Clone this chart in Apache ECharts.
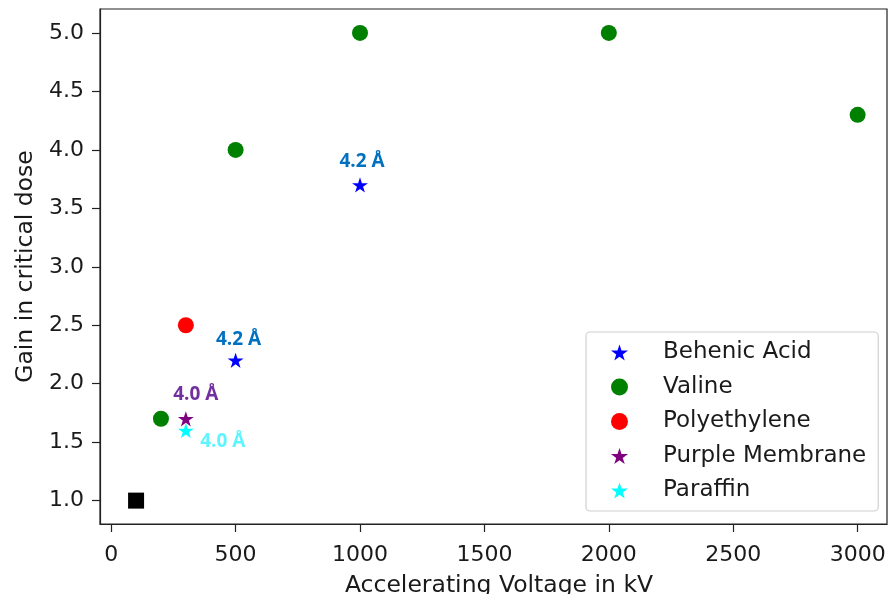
<!DOCTYPE html>
<html><head><meta charset="utf-8">
<script src="https://cdn.jsdelivr.net/npm/echarts@6/dist/echarts.min.js"></script>
<style>html,body{margin:0;padding:0;background:#fff}#c{width:892px;height:594px}</style>
</head><body><div id="c"></div>
<script>
// ---- data ----
const behenicX = [500, 1000];
const behenicY = [2.2, 3.7];
const behenicNotes = ['4.2 Å', '4.2 Å'];
const valineX = [200, 500, 1000, 2000, 3000];
const valineY = [1.7, 4.0, 5.0, 5.0, 4.3];
const polyX = [300];
const polyY = [2.5];
const purpleX = [300];
const purpleY = [1.7];
const purpleNotes = ['4.0 Å'];
const paraffinX = [300];
const paraffinY = [1.6];
const paraffinNotes = ['4.0 Å'];
const refX = [100];
const refY = [1.0];
const xTicks = [0, 500, 1000, 1500, 2000, 2500, 3000];
const yTicks = [1.0, 1.5, 2.0, 2.5, 3.0, 3.5, 4.0, 4.5, 5.0];
const seriesNames = ['Behenic Acid', 'Valine', 'Polyethylene', 'Purple Membrane', 'Paraffin'];

const STAR = 'path://M50 0 L61.2 34.55 L97.55 34.55 L68.2 55.9 L79.4 90.45 L50 69.1 L20.6 90.45 L31.8 55.9 L2.45 34.55 L38.8 34.55 Z';
const zip = (xs, ys) => xs.map((x, i) => [x, ys[i]]);
const noteFont = {fontFamily: 'Open Sans', fontWeight: 'bold', fontSize: 19, textBorderWidth: 0, opacity: 1};

function annotated(xs, ys, notes, color, offsets) {
  return xs.map((x, i) => ({
    value: [x, ys[i]],
    label: Object.assign({show: true, formatter: notes[i], color: color, position: 'inside', offset: offsets[i]}, noteFont)
  }));
}

const chart = echarts.init(document.getElementById('c'), null, {renderer: 'canvas'});
const axisFont = {fontFamily: 'DejaVu Sans', fontSize: 22, color: '#1a1a1a'};
chart.setOption({
  animation: false,
  backgroundColor: '#fff',
  grid: {left: 100, right: 5, top: 9, bottom: 70, containLabel: false, outerBoundsMode: 'none',
         show: true, borderColor: '#222', borderWidth: 1.2, backgroundColor: 'transparent'},
  legend: {
    data: seriesNames.map((n, i) => ({name: n, icon: (i === 1 || i === 2) ? 'circle' : STAR})),
    orient: 'vertical', left: 586, top: 332, itemWidth: 17, itemHeight: 17, itemGap: 11.5,
    padding: [9, 12, 9, 25],
    borderColor: '#d0d0d0', borderWidth: 1.2, borderRadius: 4, backgroundColor: 'rgba(255,255,255,0.85)',
    textStyle: Object.assign({}, axisFont, {fontSize: 23, padding: [0, 0, 0, 30]})
  },
  xAxis: {
    type: 'value', min: -45, max: 3118,
    name: 'Accelerating Voltage in kV', nameLocation: 'middle', nameGap: 50,
    nameTextStyle: Object.assign({}, axisFont, {fontSize: 23.5, padding: [0, 0, 0, 11]}),
    axisLine: {show: true, onZero: false, lineStyle: {color: '#222', width: 1.2}},
    axisTick: {show: true, length: 8, customValues: xTicks, lineStyle: {color: '#222', width: 1.2}},
    axisLabel: Object.assign({customValues: xTicks, margin: 20, formatter: v => String(v)}, axisFont),
    splitLine: {show: false}
  },
  yAxis: {
    type: 'value', min: 0.8, max: 5.205,
    name: 'Gain in critical dose', nameLocation: 'middle', nameGap: 62,
    nameTextStyle: Object.assign({}, axisFont, {fontSize: 23.5}),
    axisLine: {show: true, onZero: false, lineStyle: {color: '#222', width: 1.2}},
    axisTick: {show: true, length: 8, customValues: yTicks, lineStyle: {color: '#222', width: 1.2}},
    axisLabel: Object.assign({customValues: yTicks, margin: 16, formatter: v => v.toFixed(1)}, axisFont),
    splitLine: {show: false}
  },
  series: [
    {name: seriesNames[0], type: 'scatter', symbol: STAR, symbolKeepAspect: true, symbolSize: 16, itemStyle: {color: '#0000ff', opacity: 1},
     data: annotated(behenicX, behenicY, behenicNotes, '#0070c0', [[3, -21], [2, -23]])},
    {name: seriesNames[1], type: 'scatter', symbol: 'circle', symbolSize: 16, itemStyle: {color: '#008000', opacity: 1}, data: zip(valineX, valineY)},
    {name: seriesNames[2], type: 'scatter', symbol: 'circle', symbolSize: 16, itemStyle: {color: '#ff0000', opacity: 1}, data: zip(polyX, polyY)},
    {name: seriesNames[3], type: 'scatter', symbol: STAR, symbolKeepAspect: true, symbolSize: 16, itemStyle: {color: '#800080', opacity: 1},
     data: annotated(purpleX, purpleY, purpleNotes, '#7030a0', [[10, -24]])},
    {name: seriesNames[4], type: 'scatter', symbol: STAR, symbolKeepAspect: true, symbolSize: 16, itemStyle: {color: '#00ffff', opacity: 1},
     data: annotated(paraffinX, paraffinY, paraffinNotes, '#5ff5ff', [[37, 11]])},
    {name: 'ref', type: 'scatter', symbol: 'rect', symbolSize: 16, itemStyle: {color: '#000000', opacity: 1}, data: zip(refX, refY)}
  ]
});
</script></body></html>
